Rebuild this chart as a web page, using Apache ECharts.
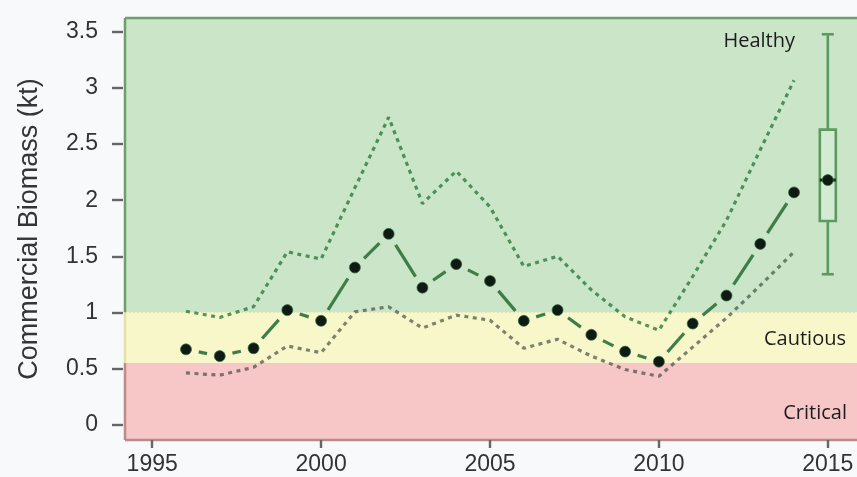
<!DOCTYPE html>
<html>
<head>
<meta charset="utf-8">
<script src="https://cdn.jsdelivr.net/npm/echarts@6/dist/echarts.min.js"></script>
<style>
  html, body { margin: 0; padding: 0; background: #f8f9fb; }
  #chart { width: 857px; height: 477px; }
</style>
</head>
<body>
<div id="chart"></div>
<script>
// Commercial biomass estimates (kt) with lower / upper bounds
const years = [1996, 1997, 1998, 1999, 2000, 2001, 2002, 2003, 2004, 2005,
               2006, 2007, 2008, 2009, 2010, 2011, 2012, 2013, 2014];
const biomass = [0.67, 0.61, 0.68, 1.02, 0.925, 1.40, 1.70, 1.22, 1.43, 1.28,
                 0.925, 1.02, 0.80, 0.65, 0.56, 0.90, 1.15, 1.61, 2.07];
const upperBound = [1.01, 0.955, 1.05, 1.54, 1.475, 2.11, 2.74, 1.97, 2.26, 1.94,
                    1.41, 1.50, 1.20, 0.96, 0.84, 1.32, 1.82, 2.45, 3.07];
const lowerBound = [0.46, 0.44, 0.51, 0.70, 0.64, 1.005, 1.05, 0.86, 0.975, 0.93,
                    0.68, 0.76, 0.61, 0.49, 0.43, 0.69, 0.95, 1.24, 1.54];

// 2015 projection: [min, Q1, median, Q3, max]
const projectionYear = 2015;
const projection = [1.34, 1.815, 2.18, 2.63, 3.48];

// Stock status zones, bottom to top, and the limits between them
const zoneNames = ['Critical', 'Cautious', 'Healthy'];
const zoneLimits = [0.55, 1.0];

const xTicks = [1995, 2000, 2005, 2010, 2015];
const yTicks = [0, 0.5, 1, 1.5, 2, 2.5, 3, 3.5];

const zoneFill = ['#f7c7c7', '#f8f7ca', '#cae5c7'];
const zoneEdge = ['#bb8a8a', '#e6e0a6', '#6c9f6b'];

const chart = echarts.init(document.getElementById('chart'), null, { renderer: 'canvas' });

const zoneData = zoneNames.map((n, i) => [i]);

function renderZone(params, api) {
  const cs = params.coordSys;
  const i = params.dataIndex;
  const lo = i === 0 ? null : zoneLimits[i - 1];
  const hi = i === zoneNames.length - 1 ? null : zoneLimits[i];
  const yb = lo == null ? cs.y + cs.height : api.coord([xTicks[0], lo])[1];
  const yt = hi == null ? cs.y : api.coord([xTicks[0], hi])[1];
  const children = [{
    type: 'rect',
    shape: { x: cs.x, y: yt, width: cs.width, height: yb - yt },
    style: { fill: zoneFill[i] }
  }, {
    type: 'line',
    shape: { x1: cs.x, y1: yt, x2: cs.x, y2: yb },
    style: { stroke: zoneEdge[i], lineWidth: 2.5 }
  }];
  if (hi == null) {
    children.push({ type: 'line', shape: { x1: cs.x, y1: yt, x2: cs.x + cs.width, y2: yt },
      style: { stroke: zoneEdge[i], lineWidth: 2.5 } });
  }
  if (lo == null) {
    children.push({ type: 'line', shape: { x1: cs.x, y1: yb, x2: cs.x + cs.width, y2: yb },
      style: { stroke: zoneEdge[i], lineWidth: 2.5 } });
  }
  if (hi != null) {
    children.push({ type: 'line', shape: { x1: cs.x, y1: yt, x2: cs.x + cs.width, y2: yt },
      style: { stroke: 'rgba(225,215,140,0.6)', lineWidth: 1, lineDash: [2, 2] } });
  }
  return { type: 'group', children };
}

// Biomass trajectory: segments stop short of each point
function renderSegment(params, api) {
  const i = params.dataIndex;
  if (i >= years.length - 1) return null;
  const p0 = api.coord([years[i], biomass[i]]);
  const p1 = api.coord([years[i + 1], biomass[i + 1]]);
  const dx = p1[0] - p0[0], dy = p1[1] - p0[1];
  const len = Math.sqrt(dx * dx + dy * dy);
  const gap = 13;
  if (len <= 2 * gap) return null;
  const ux = dx / len, uy = dy / len;
  return {
    type: 'line',
    shape: { x1: p0[0] + ux * gap, y1: p0[1] + uy * gap, x2: p1[0] - ux * gap, y2: p1[1] - uy * gap },
    style: { stroke: '#3d7d47', lineWidth: 3.2, lineCap: 'butt' }
  };
}

function renderBox(params, api) {
  const x = api.value(0);
  const pMin = api.coord([x, api.value(1)]);
  const pQ1 = api.coord([x, api.value(2)]);
  const pMed = api.coord([x, api.value(3)]);
  const pQ3 = api.coord([x, api.value(4)]);
  const pMax = api.coord([x, api.value(5)]);
  const cx = pMed[0];
  const hw = 8, cap = 6;
  const stroke = { stroke: '#5c9a60', lineWidth: 2.6 };
  return {
    type: 'group',
    children: [
      { type: 'line', shape: { x1: cx, y1: pMax[1], x2: cx, y2: pQ3[1] }, style: stroke },
      { type: 'line', shape: { x1: cx, y1: pQ1[1], x2: cx, y2: pMin[1] }, style: stroke },
      { type: 'line', shape: { x1: cx - cap, y1: pMax[1], x2: cx + cap, y2: pMax[1] }, style: stroke },
      { type: 'line', shape: { x1: cx - cap, y1: pMin[1], x2: cx + cap, y2: pMin[1] }, style: stroke },
      { type: 'rect', shape: { x: cx - hw, y: pQ3[1], width: 2 * hw, height: pQ1[1] - pQ3[1] },
        style: { fill: 'rgba(255,255,255,0.22)', stroke: '#5c9a60', lineWidth: 2.6 } },
      { type: 'line', shape: { x1: cx - hw, y1: pMed[1], x2: cx + hw, y2: pMed[1] },
        style: { stroke: '#1b2a1e', lineWidth: 3 } },
      { type: 'circle', shape: { cx: cx, cy: pMed[1], r: 5.5 },
        style: { fill: '#0e1a12', stroke: 'rgba(50,110,70,0.7)', lineWidth: 1 } }
    ]
  };
}

const axisFont = 'Liberation Sans';

chart.setOption({
  animation: false,
  backgroundColor: '#f8f9fb',
  grid: { left: 125, top: 18, width: 735, height: 422, containLabel: false },
  xAxis: {
    type: 'value',
    min: 1994.195,
    max: 2015.864,
    axisLine: { show: false, onZero: false },
    splitLine: { show: false },
    axisTick: { show: true, customValues: xTicks, length: 8, lineStyle: { color: '#666', width: 2.4 } },
    axisLabel: { customValues: xTicks, margin: 13, fontFamily: axisFont, fontSize: 23, color: '#333',
      formatter: v => String(v) }
  },
  yAxis: {
    type: 'value',
    min: -0.1382,
    max: 3.625,
    offset: 2,
    name: 'Commercial Biomass (kt)',
    nameLocation: 'middle',
    nameRotate: 90,
    nameGap: 80,
    nameTextStyle: { fontFamily: axisFont, fontSize: 27, color: '#353535' },
    axisLine: { show: false, onZero: false },
    splitLine: { show: false },
    axisTick: { show: true, customValues: yTicks, length: 11, lineStyle: { color: '#666', width: 2.4 } },
    axisLabel: { customValues: yTicks, margin: 25, fontFamily: axisFont, fontSize: 23, color: '#333',
      formatter: v => String(v) }
  },
  series: [
    {
      type: 'custom',
      name: 'zones',
      renderItem: renderZone,
      data: zoneData,
      encode: { x: 0, y: 0 },
      clip: false,
      z: 0,
      silent: true
    },
    {
      type: 'line',
      name: 'Upper bound',
      data: years.map((y, i) => [y, upperBound[i]]),
      showSymbol: false,
      lineStyle: { color: 'rgba(38,120,58,0.78)', width: 3.2, type: [4, 4.5] },
      z: 2
    },
    {
      type: 'line',
      name: 'Lower bound',
      data: years.map((y, i) => [y, lowerBound[i]]),
      showSymbol: false,
      lineStyle: { color: 'rgba(60,70,62,0.66)', width: 3.2, type: [4, 4.5] },
      z: 2
    },
    {
      type: 'custom',
      name: 'Biomass trend',
      renderItem: renderSegment,
      data: years.map((y, i) => [y, biomass[i]]),
      z: 3
    },
    {
      type: 'scatter',
      name: 'Biomass',
      data: years.map((y, i) => [y, biomass[i]]),
      symbol: 'circle',
      symbolSize: 11,
      itemStyle: { color: '#0e1a12', borderColor: 'rgba(50,110,70,0.7)', borderWidth: 1, opacity: 1 },
      z: 4
    },
    {
      type: 'custom',
      name: 'Projection',
      renderItem: renderBox,
      data: [[projectionYear].concat(projection)],
      encode: { x: 0, y: [1, 2, 3, 4, 5] },
      z: 4
    }
  ],
  graphic: [
    { type: 'text', x: 795, y: 41, style: { text: zoneNames[2], align: 'right', verticalAlign: 'middle',
      font: '20px "Open Sans"', fill: '#1c1c1c' }, z: 10 },
    { type: 'text', x: 846, y: 339, style: { text: zoneNames[1], align: 'right', verticalAlign: 'middle',
      font: '20px "Open Sans"', fill: '#1c1c1c' }, z: 10 },
    { type: 'text', x: 847, y: 413, style: { text: zoneNames[0], align: 'right', verticalAlign: 'middle',
      font: '20px "Open Sans"', fill: '#1c1c1c' }, z: 10 }
  ]
});
</script>
</body>
</html>
